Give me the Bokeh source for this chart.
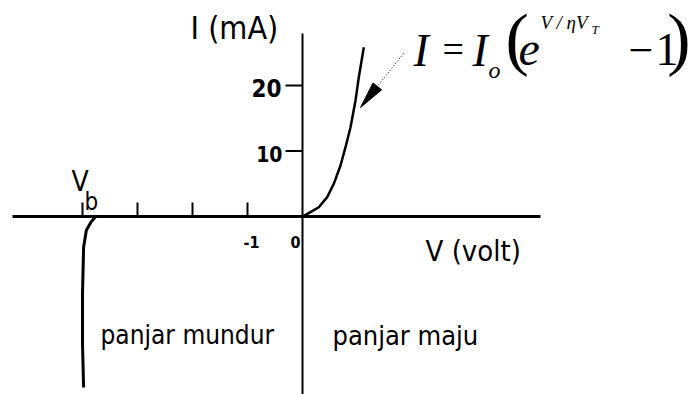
from bokeh.plotting import figure
from bokeh.models import Range1d
from bokeh.core.properties import value
from bokeh.embed import file_html
from bokeh.resources import INLINE

# Diode I-V characteristic (schematic), V in volt, I in mA
forward_v = [0.0, 0.145, 0.296, 0.449, 0.569, 0.691, 0.782, 0.873, 0.964, 1.024, 1.115]
forward_i = [0.0, 0.66, 1.42, 2.95, 4.99, 7.79, 10.58, 13.63, 17.71, 21.27, 25.85]

reverse_v = [-3.76, -3.85, -3.93, -3.98, -4.00, -4.00, -3.98]
reverse_i = [0.0, -0.9, -2.1, -4.7, -11.8, -19.4, -26.1]

x_ticks = [-4, -3, -2, -1]
y_ticks = [10, 20]
y_tick_labels = ["10", "20"]

W, H = 691, 394
OX, OY = 302, 216          # pixel position of the origin
SX, SY = 55.0, 6.55        # pixels per volt, pixels per mA


def X(px):
    return (px - OX) / SX


def Y(py):
    return (OY - py) / SY


p = figure(width=W, height=H, output_backend="svg", toolbar_location=None,
           x_axis_location=None, y_axis_location=None,
           x_range=Range1d(X(0), X(W)), y_range=Range1d(Y(H), Y(0)),
           min_border=0, outline_line_color=None)
p.grid.visible = False
p.background_fill_color = "white"
p.border_fill_color = "white"

# axes
p.line([X(12), X(540)], [0, 0], line_color="black", line_width=3)
p.line([0, 0], [Y(33), Y(H + 2)], line_color="black", line_width=2)

# tick marks
p.segment(x0=x_ticks, y0=[Y(OY)] * len(x_ticks), x1=x_ticks,
          y1=[Y(202)] * len(x_ticks), line_color="black", line_width=2)
p.segment(x0=[X(285)] * len(y_ticks), y0=y_ticks, x1=[0] * len(y_ticks),
          y1=y_ticks, line_color="black", line_width=2)

# curves
p.line(forward_v, forward_i, line_color="black", line_width=2.5)
p.line(reverse_v, reverse_i, line_color="black", line_width=3)

SANS = value("DejaVu Sans Condensed")
SERIF = value("Liberation Serif")


def label(px, py, txt, size, font=SANS, style="normal", align="left"):
    # py is the wanted baseline in pixels
    p.text(x=[X(px)], y=[Y(py - 0.4 * size)], text=[txt], text_font=font,
           text_font_size=f"{size}px", text_font_style=style,
           text_align=align, text_baseline="alphabetic", text_color="black")


# axis tick labels
for v, t, (px, py, sz) in zip(y_ticks, y_tick_labels,
                              [(282, 162, 21), (281, 97, 24)]):
    label(px, py, t, sz, style="bold", align="right")
label(243, 248, "-1", 16, style="bold")
label(290, 248, "0", 16, style="bold")

# axis titles and region labels
label(190, 40, "I (mA)", 32)
label(425, 262, "V  (volt)", 29)
label(71, 192, "V", 28)
label(84, 211, "b", 24)
label(100, 345, "panjar mundur", 26)
label(332, 346, "panjar maju", 27)

# diode equation
label(413, 68, "I", 46, SERIF, "italic")
label(442, 64, "=", 38, SERIF)
label(472, 68, "I", 46, SERIF, "italic")
label(488, 79, "o", 24, SERIF, "italic")
label(505, 66, "(", 70, SERIF)
label(518, 68, "e", 48, SERIF, "italic")
label(540, 30, "V / \u03b7V", 19, SERIF, "italic")
label(591, 34, "T", 13, SERIF, "italic")
label(628, 68, "\u2212", 44, SERIF)
label(655, 67, "1", 46, SERIF)
label(690, 66, ")", 70, SERIF, align="right")

# pointer from the equation to the forward curve
tail = (403.0, 53.0)
tip = (360.0, 107.0)
dx, dy = tip[0] - tail[0], tip[1] - tail[1]
ln = (dx * dx + dy * dy) ** 0.5
ux, uy = dx / ln, dy / ln
head_len, head_half = 27.0, 5.5
bx, by = tip[0] - head_len * ux, tip[1] - head_len * uy
p.line([X(tail[0]), X(bx)], [Y(tail[1]), Y(by)], line_color="black",
       line_width=1, line_dash="1 2")
p.patch([X(tip[0]), X(bx - head_half * uy), X(bx + head_half * uy)],
        [Y(tip[1]), Y(by + head_half * ux), Y(by - head_half * ux)],
        fill_color="black", line_color="black", line_width=1)

open("out.html", "w").write(file_html(p, INLINE))
